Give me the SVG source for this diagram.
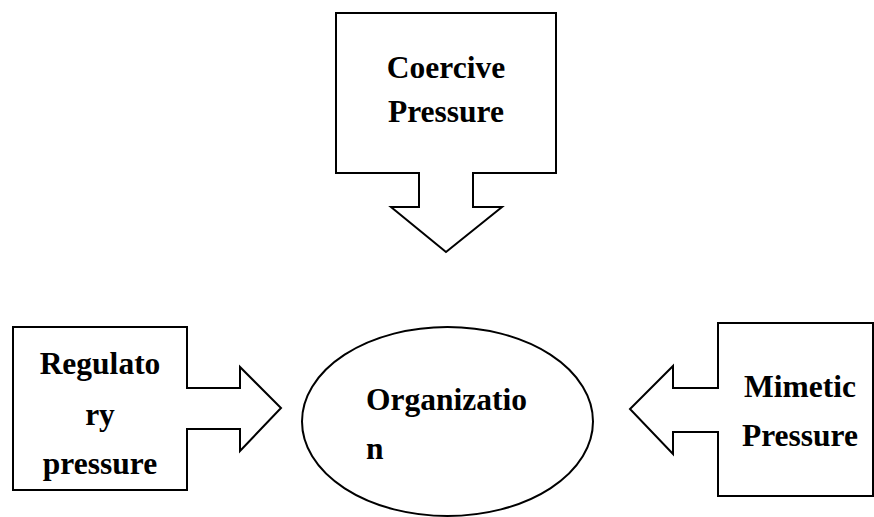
<svg xmlns="http://www.w3.org/2000/svg" width="874" height="517" viewBox="0 0 874 517">
<style>
.shape{fill:#fff;stroke:#000;stroke-width:2;stroke-linejoin:miter}
.lbl{font-family:"Liberation Serif","Times New Roman",serif;font-weight:bold;font-size:31.5px;fill:#000}
.c{text-anchor:middle}
</style>
<rect width="874" height="517" fill="#fff"/>
<g id="coercive">
<path class="shape" d="M336,13 H556 V173 H473 V207 H502 L446,252 L391,207 H419 V173 H336 Z"/>
<text class="lbl c" x="446" y="78">Coercive</text>
<text class="lbl c" x="446" y="122">Pressure</text>
</g>
<g id="regulatory">
<path class="shape" d="M13,327 H187 V388 H240 V367 L281,408 L240,451 V429 H187 V490 H13 Z"/>
<text class="lbl c" x="100" y="374">Regulato</text>
<text class="lbl c" x="100" y="425">ry</text>
<text class="lbl c" x="100" y="474">pressure</text>
</g>
<g id="organization">
<ellipse class="shape" cx="447.5" cy="421.5" rx="145.5" ry="94.5"/>
<text class="lbl" x="366" y="410">Organizatio</text>
<text class="lbl" x="366" y="459">n</text>
</g>
<g id="mimetic">
<path class="shape" d="M873,323 H718 V388 H673 V366 L630,409 L673,454 V432 H718 V496 H873 Z"/>
<text class="lbl c" x="800" y="397">Mimetic</text>
<text class="lbl c" x="800" y="446">Pressure</text>
</g>
<g id="connectors"></g>
</svg>
